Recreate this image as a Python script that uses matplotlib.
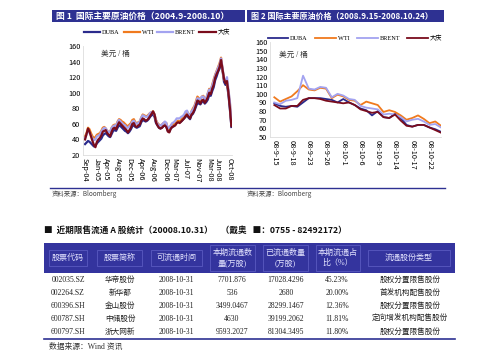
import matplotlib
matplotlib.use('Agg')
import matplotlib.pyplot as plt
from matplotlib.patches import Rectangle
from matplotlib.lines import Line2D

plt.rcParams['font.family'] = ['Noto Sans CJK SC', 'DejaVu Sans']

# ---- chart 1 data: semi-monthly prices Sep-04 .. Oct-08 (USD / bbl)
dates1 = ['Sep-04', 'Jan-05', 'Apr-05', 'Aug-05', 'Dec-05', 'Apr-06', 'Aug-06',
          'Dec-06', 'Mar-07', 'Jul-07', 'Nov-07', 'Mar-08', 'Jun-08', 'Oct-08']
date_idx1 = [0, 8, 14, 22, 30, 38, 46, 54, 60, 68, 76, 84, 90, 98]

duba1 = [34, 36, 38, 37, 35, 33, 31, 32, 35, 37, 39, 41, 45, 47, 48, 46, 44, 43, 47, 51,
         52, 51, 55, 58, 57, 55, 53, 51, 50, 48, 50, 53, 57, 58, 56, 55, 56, 57, 62, 65,
         64, 63, 64, 66, 69, 71, 72, 69, 61, 58, 55, 54, 55, 57, 58, 56, 51, 50, 54, 56,
         57, 59, 62, 63, 62, 63, 65, 67, 69, 71, 68, 66, 71, 73, 77, 82, 87, 86, 85, 88,
         89, 86, 88, 91, 97, 96, 102, 107, 116, 121, 127, 131, 140, 128, 114, 110, 111, 97, 78, 56]
wti1 = [44, 48, 55, 53, 48, 44, 42, 43, 46, 47, 48, 51, 55, 56, 54, 51, 49, 50, 55, 58,
        59, 58, 63, 66, 65, 63, 62, 60, 58, 57, 59, 61, 65, 66, 62, 61, 62, 63, 68, 72,
        71, 70, 70, 72, 74, 75, 76, 72, 65, 61, 59, 58, 59, 61, 62, 61, 54, 53, 58, 60,
        60, 59, 63, 64, 63, 65, 68, 70, 74, 76, 72, 71, 76, 80, 83, 89, 95, 93, 91, 95,
        96, 91, 93, 99, 105, 103, 110, 117, 123, 128, 133, 138, 145, 130, 117, 114, 112, 102, 86, 60]
brent1 = [42, 46, 51, 49, 45, 41, 39, 40, 44, 45, 46, 50, 53, 55, 54, 51, 49, 50, 55, 57,
          58, 57, 62, 65, 63, 61, 59, 58, 55, 55, 57, 59, 63, 64, 61, 60, 61, 63, 68, 71,
          70, 69, 69, 71, 74, 75, 75, 72, 64, 60, 58, 58, 59, 61, 63, 61, 54, 55, 58, 61,
          62, 64, 67, 67, 67, 69, 70, 72, 76, 77, 71, 70, 76, 78, 82, 87, 93, 92, 92, 95,
          95, 91, 93, 99, 104, 103, 109, 115, 122, 127, 132, 136, 144, 132, 118, 114, 120, 104, 88, 62]
daqing1 = [40, 47, 54, 50, 44, 38, 33, 30, 37, 40, 42, 45, 50, 51, 52, 48, 46, 44, 50, 54,
           55, 53, 58, 62, 60, 58, 56, 54, 52, 49, 52, 55, 60, 61, 57, 56, 58, 59, 64, 67,
           66, 64, 65, 67, 70, 73, 76, 72, 62, 58, 55, 54, 55, 57, 58, 56, 50, 49, 54, 56,
           57, 58, 61, 62, 61, 63, 65, 67, 70, 72, 69, 67, 72, 74, 78, 84, 90, 89, 86, 90,
           91, 87, 90, 94, 100, 98, 105, 110, 119, 124, 128, 133, 142, 130, 118, 112, 115, 100, 80, 57]

# ---- chart 2 data: trading days 2008-09-15 .. 2008-10-24
dates2 = ['08-9-15', '08-9-18', '08-9-23', '08-9-26', '08-10-1',
          '08-10-6', '08-10-9', '08-10-14', '08-10-17', '08-10-22']
date_idx2 = [0, 3, 6, 9, 12, 15, 18, 21, 24, 27]

duba2 = [89, 86, 85, 86, 85, 90, 95, 95, 95, 94, 93, 90, 94, 90, 87,
         83, 81, 75, 80, 73, 72, 77, 72, 64, 62, 64, 64, 61, 59, 56]
wti2 = [96, 91, 94, 97, 103, 110, 105, 104, 107, 106, 95, 99, 97, 93, 92,
        87, 91, 89, 87, 79, 81, 79, 75, 70, 72, 75, 71, 66, 68, 63]
brent2 = [90, 88, 92, 93, 95, 121, 106, 105, 108, 107, 96, 100, 98, 94, 93,
          86, 84, 83, 82, 76, 77, 76, 73, 68, 70, 71, 68, 64, 65, 61]
daqing2 = [87, 83, 83, 86, 86, 93, 95, 95, 94, 92, 91, 90, 89, 90, 87,
           82, 80, 78, 79, 73, 72, 76, 69, 63, 62, 64, 64, 61, 58, 55]

series_names = ['DUBA', 'WTI', 'BRENT', '大庆']
series_colors = ['#2b2b8c', '#f07a1e', '#a3a3f0', '#7a0c1c']

# ---- table data
tbl_cols = ['股票代码', '股票简称', '可流通时间', '本期流通数\n量(万股)',
            '已流通数量\n(万股)', '本期流通占\n比（%）', '流通股份类型']
codes = ['002035.SZ', '002264.SZ', '600396.SH', '600787.SH', '600797.SH']
names = ['华帝股份', '新华都', '金山股份', '中储股份', '浙大网新']
free_dates = ['2008-10-31'] * 5
qty_now = ['7701.876', '536', '3499.0467', '4630', '9593.2027']
qty_total = ['17028.4296', '2680', '28299.1467', '39199.2062', '81304.3495']
ratios = ['45.23%', '20.00%', '12.36%', '11.81%', '11.80%']
share_types = ['股权分置限售股份', '首发机构配售股份', '股权分置限售股份',
               '定向增发机构配售股份', '股权分置限售股份']

W, H = 499, 359
NAVY = '#2e3192'


def fx(px):
    return px / W


def fy(py):
    return 1 - py / H


fig = plt.figure(figsize=(W / 100, H / 100), dpi=100)
fig.patch.set_facecolor('white')

# title bars
for x0, x1, title, fs in [(52, 245, '图 1  国际主要原油价格（2004.9-2008.10）', 6.3),
                          (247, 444, '图 2 国际主要原油价格（2008.9.15-2008.10.24）', 5.8)]:
    fig.add_artist(Rectangle((fx(x0), fy(22)), fx(x1 - x0), 12 / H,
                             transform=fig.transFigure, color=NAVY, lw=0))
    fig.text(fx(x0 + 4), fy(16), title, color='white', fontsize=fs,
             fontweight='bold', va='center', ha='left')

serif = ['Liberation Serif', 'Noto Sans CJK SC']


def draw_chart(rect, xs_len, data, lw, xlim, ylim, yticks, tick_idx, tick_lab, leg_y, leg_x, hl, cs):
    ax = fig.add_axes(rect)
    x = list(range(xs_len))
    handles = []
    for vals, name, col in zip(data, series_names, series_colors):
        h, = ax.plot(x, vals, color=col, lw=lw, label=name, solid_joinstyle='round')
        handles.append(h)
    ax.set_xlim(*xlim)
    ax.set_ylim(*ylim)
    ax.set_yticks(yticks)
    ax.set_xticks(tick_idx)
    ax.set_xticklabels(tick_lab, rotation=270, fontsize=5.3)
    ax.tick_params(axis='y', labelsize=5.3, length=0, pad=2)
    ax.tick_params(axis='x', length=0, pad=2)
    for s in ['top', 'right']:
        ax.spines[s].set_visible(False)
    for s in ['left', 'bottom']:
        ax.spines[s].set_color('#dddddd')
        ax.spines[s].set_linewidth(0.6)
    fig.legend(handles=handles, labels=series_names, loc='center',
               bbox_to_anchor=(fx(leg_x), fy(leg_y)), ncol=4, frameon=False,
               prop={'family': serif, 'size': 4.5}, handlelength=hl,
               columnspacing=cs, handletextpad=0.3)
    return ax


ax1 = draw_chart([fx(83), fy(155), fx(232) - fx(83), 109 / H], len(daqing1),
                 [duba1, wti1, brent1, daqing1], 1.6, (-1.4, 99.4), (20, 160),
                 range(20, 161, 20), date_idx1, dates1, 32, 157, 2.6, 0.6)
ax1.text(0.12, 0.93, '美元 / 桶', transform=ax1.transAxes, fontsize=5.5,
         family=serif, ha='left', va='center', color='#333333')

ax2 = draw_chart([fx(270), fy(137), fx(441) - fx(270), 95 / H], len(daqing2),
                 [duba2, wti2, brent2, daqing2], 1.3, (-0.75, 29), (50, 160),
                 range(50, 161, 10), date_idx2, dates2, 38, 355, 3.3, 1.2)
ax2.text(0.05, 0.86, '美元 / 桶', transform=ax2.transAxes, fontsize=5.5,
         family=serif, ha='left', va='center', color='#333333')

# source lines under charts
fig.add_artist(Line2D([fx(50), fx(445)], [fy(188), fy(188)], transform=fig.transFigure,
                      color=NAVY, lw=1.0))
for x0 in [52, 247]:
    fig.text(fx(x0), fy(193.5), '资料来源：Bloomberg', fontsize=4.6, va='center',
             ha='left', color='#444444')

# table heading
fig.text(fx(44), fy(230), '■  近期限售流通 A 股统计（20008.10.31）    （戴奥   ■：0755 - 82492172）',
         fontsize=6.2, fontweight='bold', va='center', ha='left', color='#111111')

# table header band
fig.add_artist(Rectangle((fx(44), fy(273)), fx(455 - 44), 30 / H,
                         transform=fig.transFigure, color='#34349e', lw=0))
col_bounds = [(49, 87), (97, 142), (151, 202), (210, 255), (263, 308), (316, 360), (368, 450)]
for (c0, c1), lab in zip(col_bounds, tbl_cols):
    one_line = '\n' not in lab
    top, bot = (250, 266) if one_line else (245, 271)
    fig.add_artist(Rectangle((fx(c0), fy(bot)), fx(c1 - c0), (bot - top) / H,
                             transform=fig.transFigure, fill=False,
                             edgecolor='#5a5ac0', lw=0.6))
    fig.text(fx((c0 + c1) / 2), fy(258), lab, fontsize=5.8, color='#e4e4ff',
             ha='center', va='center', linespacing=1.4, family=serif)

col_x = [68, 120, 176, 232, 286, 337, 410]
row_y = [280, 293.3, 306, 319, 332.3]
for r, y in enumerate(row_y):
    row = [codes[r], names[r], free_dates[r], qty_now[r], qty_total[r], ratios[r], share_types[r]]
    for cx, val in zip(col_x, row):
        fig.text(fx(cx), fy(y), val, fontsize=5.5, ha='center', va='center',
                 family=serif, color='#222222')

fig.add_artist(Line2D([fx(44), fx(455)], [fy(339), fy(339)], transform=fig.transFigure,
                      color=NAVY, lw=1.2))
fig.text(fx(49), fy(347), '数据来源：Wind 资讯', fontsize=5.6, va='center', ha='left',
         family=serif, color='#333333')

fig.savefig('out.png', dpi=100)
